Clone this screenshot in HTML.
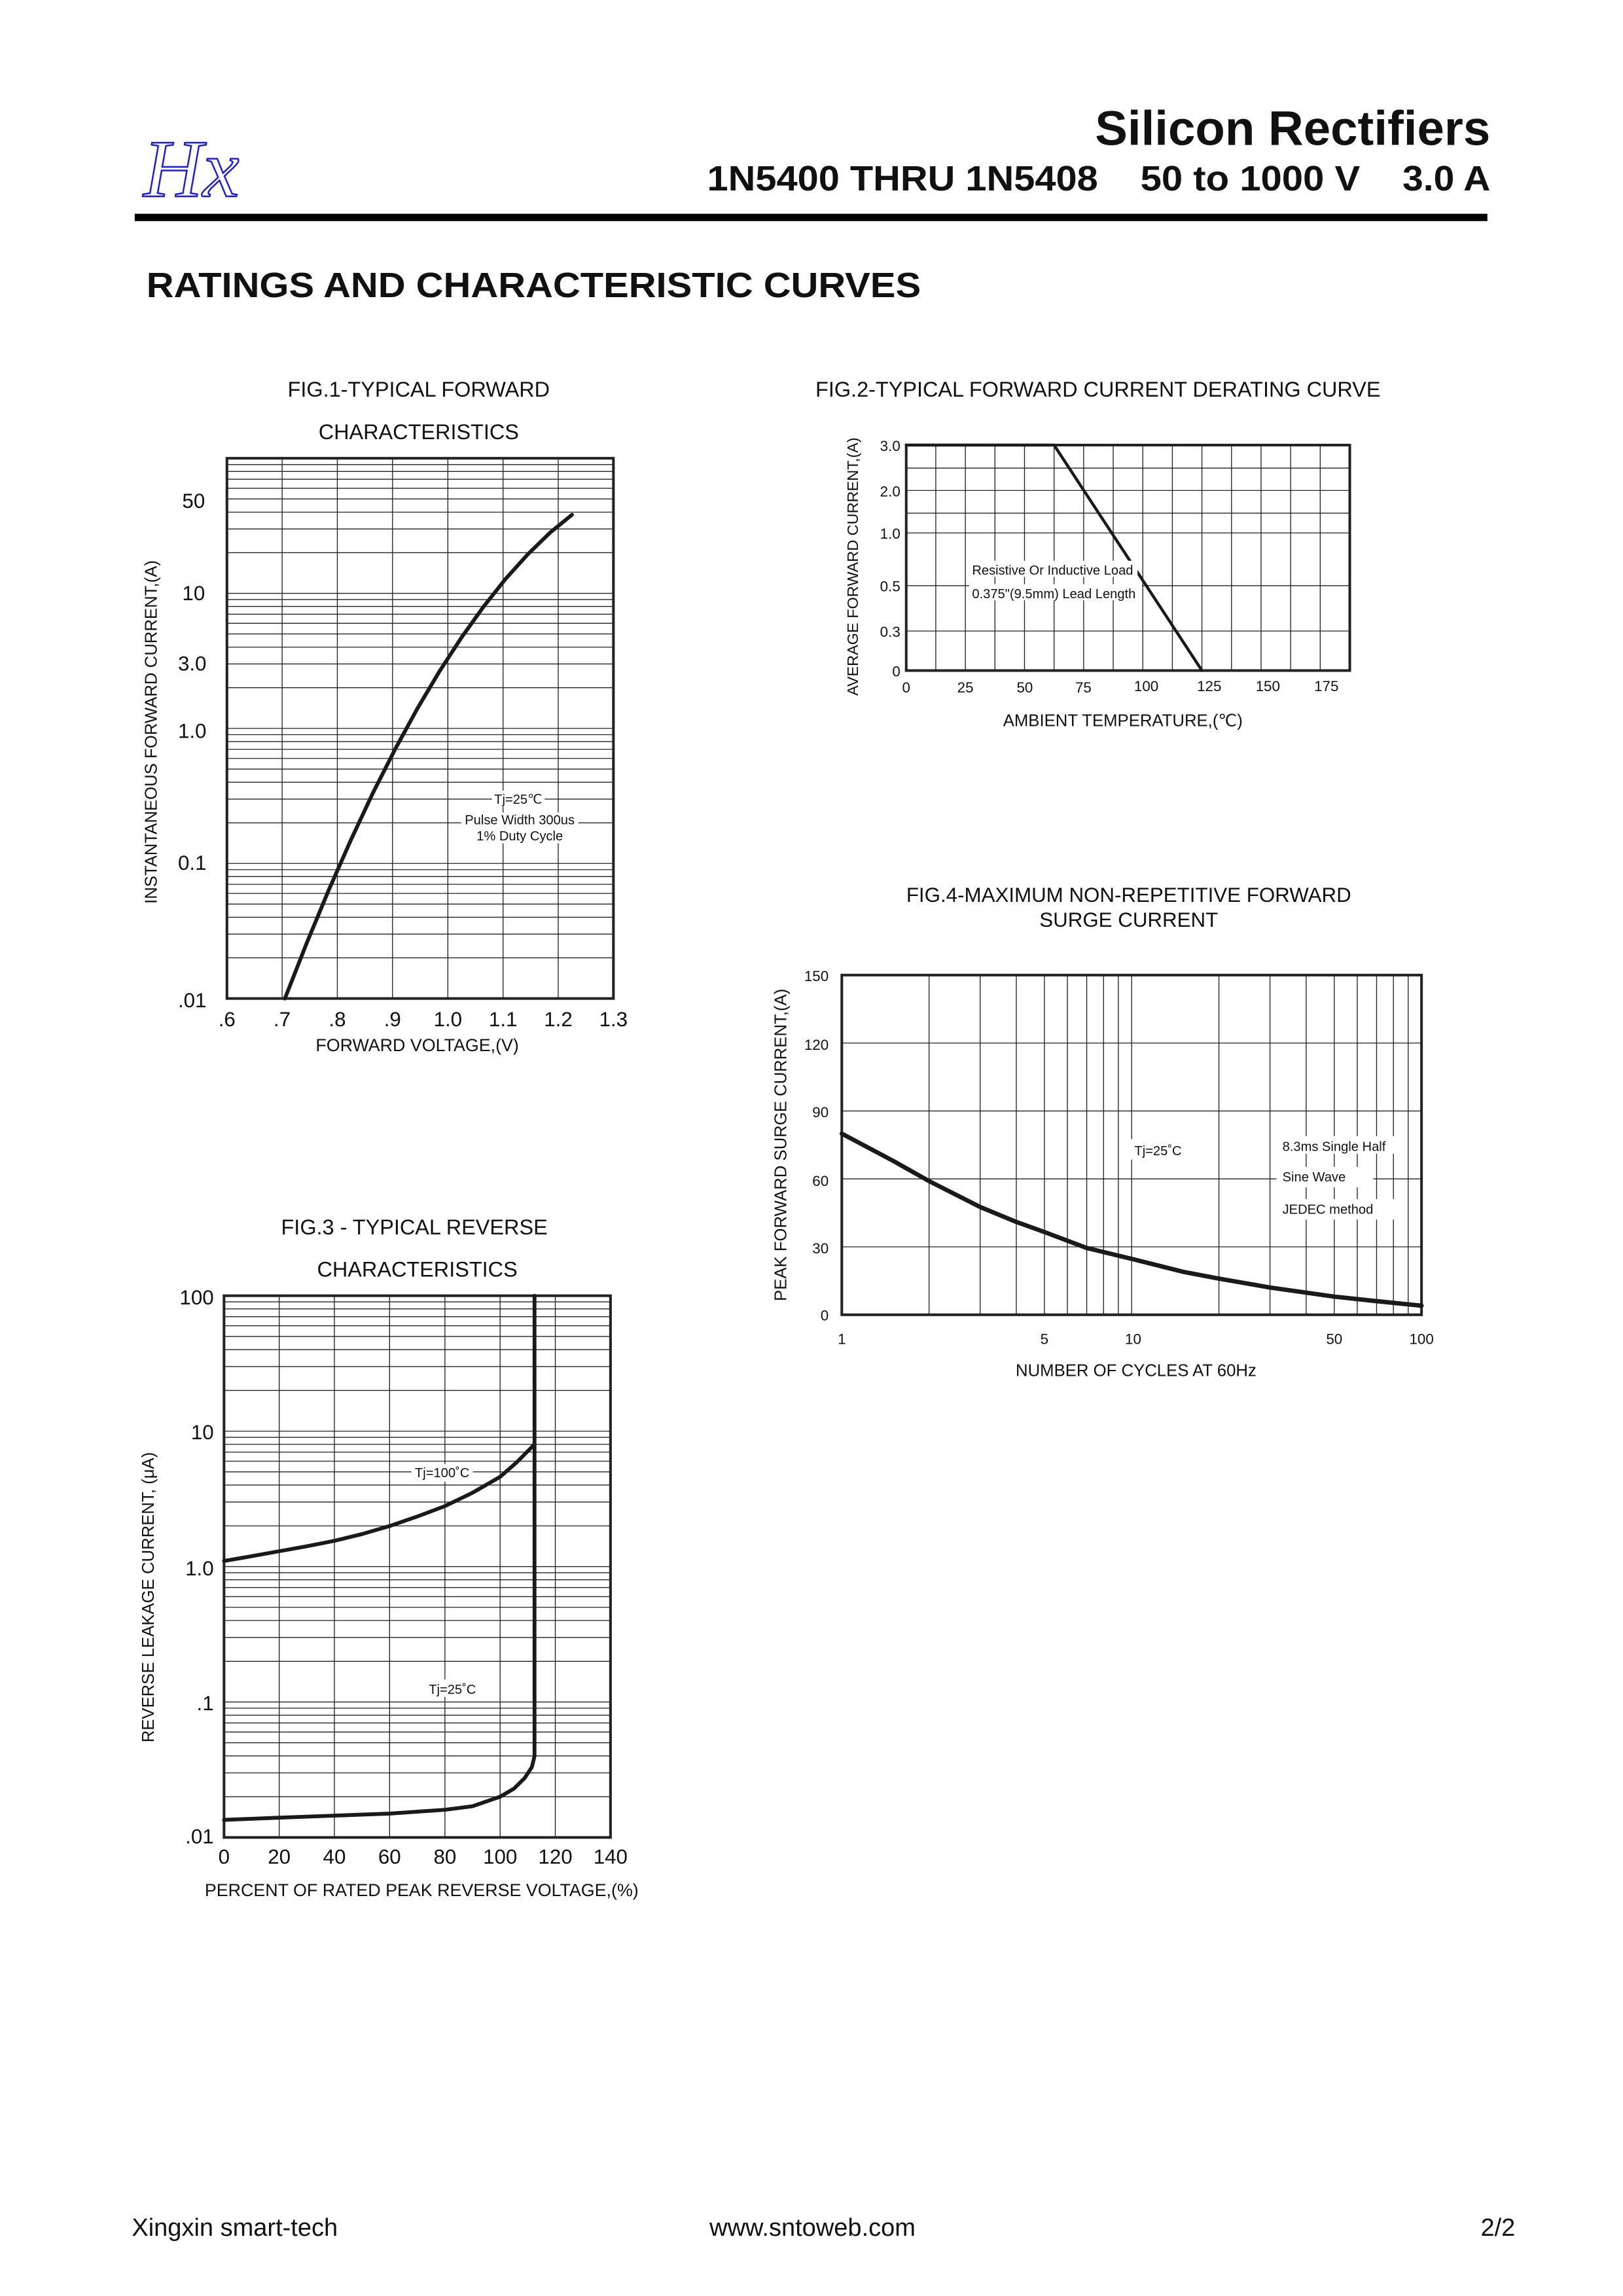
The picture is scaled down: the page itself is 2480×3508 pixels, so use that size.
<!DOCTYPE html>
<html><head><meta charset="utf-8"><style>
html,body{margin:0;padding:0;background:#fff;}
svg{display:block;}
text{font-family:"Liberation Sans",Arial,sans-serif;fill:#111;}
.g{stroke:#222;stroke-width:0.6;fill:none;}
.b{stroke:#222;stroke-width:1.8;fill:none;}
.c{stroke:#1a1a1a;stroke-width:2.6;fill:none;stroke-linejoin:round;stroke-linecap:round;}
</style></head><body>
<svg width="2480" height="3508" viewBox="0 0 1108.6 1568.2" xmlns="http://www.w3.org/2000/svg">
<rect width="1108.6" height="1568.2" fill="#fff"/>
<!-- header -->
<text x="98" y="134" font-size="56" style="font-family:'Liberation Serif',serif;font-style:italic;fill:none;stroke:#1a1ae6;stroke-width:1.1">Hx</text>
<text x="1018" y="99" text-anchor="end" font-weight="bold" font-size="33" textLength="270" lengthAdjust="spacingAndGlyphs">Silicon Rectifiers</text>
<text x="483" y="130" font-weight="bold" font-size="24" textLength="267" lengthAdjust="spacingAndGlyphs">1N5400 THRU 1N5408</text>
<text x="779" y="130" font-weight="bold" font-size="24" textLength="150" lengthAdjust="spacingAndGlyphs">50 to 1000 V</text>
<text x="958" y="130" font-weight="bold" font-size="24" textLength="60" lengthAdjust="spacingAndGlyphs">3.0 A</text>
<rect x="92" y="146" width="924" height="5" fill="#000"/>
<text x="100" y="203" font-weight="bold" font-size="24" textLength="529" lengthAdjust="spacingAndGlyphs">RATINGS AND CHARACTERISTIC CURVES</text>

<!-- FIG 1 -->
<text x="286" y="271" text-anchor="middle" font-size="14.5">FIG.1-TYPICAL FORWARD</text>
<text x="286" y="300" text-anchor="middle" font-size="14.5">CHARACTERISTICS</text>
<path class="g" d="M192.7 313V682M230.4 313V682M268.1 313V682M305.9 313V682M343.6 313V682M381.3 313V682
M155 654.2H419M155 638H419M155 626.5H419M155 617.5H419M155 610.2H419M155 604H419M155 598.7H419M155 594H419M155 589.75H419
M155 562H419M155 545.8H419M155 534.3H419M155 525.3H419M155 518H419M155 511.8H419M155 506.5H419M155 501.8H419M155 497.5H419
M155 469.7H419M155 453.5H419M155 442H419M155 433H419M155 425.7H419M155 419.5H419M155 414.2H419M155 409.5H419M155 405.25H419
M155 377.5H419M155 361.3H419M155 349.8H419M155 340.8H419M155 333.5H419M155 327.3H419M155 322H419M155 317.3H419"/>
<rect class="b" x="155" y="313" width="264" height="369"/>
<polyline class="c" points="194.6,682 209.7,643.6 224.8,607.3 239.9,573.2 254.9,541.2 270,511.5 285.1,483.9 300.2,458.5 315.3,435.3 330.4,414.2 345.4,395.3 360.5,378.6 375.6,363.9 390.7,351.6"/>
<rect x="336" y="540" width="36" height="11" fill="#fff"/>
<rect x="315" y="555" width="80" height="21" fill="#fff"/>
<text x="354" y="549" text-anchor="middle" font-size="9">Tj=25℃</text>
<text x="355" y="563" text-anchor="middle" font-size="9">Pulse Width 300us</text>
<text x="355" y="574" text-anchor="middle" font-size="9">1% Duty Cycle</text>
<g font-size="14" text-anchor="end">
<text x="140" y="347">50</text><text x="140" y="410">10</text><text x="141" y="458">3.0</text>
<text x="141" y="504">1.0</text><text x="141" y="594">0.1</text><text x="141" y="688">.01</text></g>
<g font-size="14" text-anchor="middle">
<text x="155" y="701">.6</text><text x="192.7" y="701">.7</text><text x="230.4" y="701">.8</text><text x="268.1" y="701">.9</text>
<text x="305.9" y="701">1.0</text><text x="343.6" y="701">1.1</text><text x="381.3" y="701">1.2</text><text x="419" y="701">1.3</text></g>
<text x="285" y="718" text-anchor="middle" font-size="12">FORWARD VOLTAGE,(V)</text>
<text transform="translate(107,500) rotate(-90)" text-anchor="middle" font-size="11.5">INSTANTANEOUS FORWARD CURRENT,(A)</text>

<!-- FIG 2 -->
<text x="750" y="271" text-anchor="middle" font-size="14.5">FIG.2-TYPICAL FORWARD CURRENT DERATING CURVE</text>
<path class="g" d="M639.2 304V458M659.4 304V458M679.6 304V458M699.8 304V458M720 304V458M740.2 304V458M760.4 304V458M780.6 304V458M800.8 304V458M821 304V458M841.2 304V458M861.4 304V458M881.6 304V458M901.8 304V458
M619 319.7H922M619 335H922M619 350.5H922M619 364H922M619 400H922M619 431H922"/>
<rect class="b" x="619" y="304" width="303" height="154"/>
<path class="c" d="M619 304H720L821 458" style="stroke-width:2"/>
<rect x="662" y="383" width="115" height="11" fill="#fff"/>
<rect x="662" y="399" width="118" height="11" fill="#fff"/>
<text x="664" y="392.5" font-size="9">Resistive Or Inductive Load</text>
<text x="664" y="408.5" font-size="9">0.375"(9.5mm) Lead Length</text>
<g font-size="10" text-anchor="end">
<text x="615" y="308">3.0</text><text x="615" y="339">2.0</text><text x="615" y="368">1.0</text>
<text x="615" y="404">0.5</text><text x="615" y="435">0.3</text><text x="615" y="462">0</text></g>
<g font-size="10" text-anchor="middle">
<text x="619" y="473">0</text><text x="659.4" y="473">25</text><text x="700" y="473">50</text><text x="740" y="473">75</text>
<text x="783" y="472">100</text><text x="826" y="472">125</text><text x="866" y="472">150</text><text x="906" y="472">175</text></g>
<text x="767" y="496" text-anchor="middle" font-size="11.5">AMBIENT TEMPERATURE,(℃)</text>
<text transform="translate(586,387) rotate(-90)" text-anchor="middle" font-size="10.5">AVERAGE FORWARD CURRENT,(A)</text>

<!-- FIG 4 -->
<text x="771" y="616" text-anchor="middle" font-size="14">FIG.4-MAXIMUM NON-REPETITIVE FORWARD</text>
<text x="771" y="633" text-anchor="middle" font-size="14">SURGE CURRENT</text>
<path class="g" d="M634.6 666V898M669.5 666V898M694.2 666V898M713.4 666V898M729.1 666V898M742.3 666V898M753.8 666V898M763.9 666V898M773 666V898M832.6 666V898M867.5 666V898M892.2 666V898M911.4 666V898M927.1 666V898M940.3 666V898M951.8 666V898M961.9 666V898
M575 851.6H971M575 805.2H971M575 758.8H971M575 712.4H971"/>
<rect class="b" x="575" y="666" width="396" height="232"/>
<polyline class="c" style="stroke-width:3" points="575,774.3 609.9,792.8 634.6,806.7 669.5,824.4 694.2,834.6 713.4,841.5 742.3,852.4 773,859.8 807.9,868.6 832.6,873.3 867.5,879.4 911.4,885.6 940.3,888.7 971,891.8"/>
<rect x="772" y="778" width="38" height="14" fill="#fff"/>
<rect x="872" y="776" width="82" height="12" fill="#fff"/>
<rect x="872" y="797" width="66" height="14" fill="#fff"/>
<rect x="872" y="819" width="82" height="14" fill="#fff"/>
<text x="791" y="789" text-anchor="middle" font-size="9">Tj=25˚C</text>
<text x="876" y="786" font-size="9">8.3ms Single Half</text>
<text x="876" y="807" font-size="9">Sine Wave</text>
<text x="876" y="829" font-size="9">JEDEC method</text>
<g font-size="10" text-anchor="end">
<text x="566" y="670">150</text><text x="566" y="717">120</text><text x="566" y="763">90</text>
<text x="566" y="810">60</text><text x="566" y="856">30</text><text x="566" y="902">0</text></g>
<g font-size="10" text-anchor="middle">
<text x="575" y="918">1</text><text x="713.4" y="918">5</text><text x="774" y="918">10</text>
<text x="911.4" y="918">50</text><text x="971" y="918">100</text></g>
<text x="776" y="940" text-anchor="middle" font-size="11.5">NUMBER OF CYCLES AT 60Hz</text>
<text transform="translate(537,782) rotate(-90)" text-anchor="middle" font-size="11.5">PEAK FORWARD SURGE CURRENT,(A)</text>

<!-- FIG 3 -->
<text x="283" y="843" text-anchor="middle" font-size="14.5">FIG.3 - TYPICAL REVERSE</text>
<text x="285" y="872" text-anchor="middle" font-size="14.5">CHARACTERISTICS</text>
<path class="g" d="M190.7 885V1255M228.4 885V1255M266.1 885V1255M303.9 885V1255M341.6 885V1255M379.3 885V1255
M153 1227.2H417M153 1210.9H417M153 1199.3H417M153 1190.3H417M153 1183H417M153 1176.8H417M153 1171.5H417M153 1166.7H417M153 1162.5H417
M153 1134.7H417M153 1118.4H417M153 1106.8H417M153 1097.8H417M153 1090.5H417M153 1084.3H417M153 1079H417M153 1074.2H417M153 1070H417
M153 1042.2H417M153 1025.9H417M153 1014.3H417M153 1005.3H417M153 998H417M153 991.8H417M153 986.5H417M153 981.7H417M153 977.5H417
M153 949.7H417M153 933.4H417M153 921.8H417M153 912.8H417M153 905.5H417M153 899.3H417M153 894H417M153 889.2H417"/>
<rect class="b" x="153" y="885" width="264" height="370"/>
<polyline class="c" points="153,1066.2 171.9,1062.9 190.7,1059.5 209.6,1056.1 228.4,1052.4 247.3,1047.8 266.1,1042.3 285,1035.8 303.9,1028.7 322.7,1019.6 341.6,1008.7 352.9,998.8 365.1,986.5"/>
<polyline class="c" points="153,1243 190.7,1241.5 228.4,1240.1 266.1,1238.7 303.9,1236.1 322.7,1233.7 341.6,1227.2 351,1221.7 358.5,1214.3 363.3,1206.9 365.1,1199.5 365.1,885"/>
<rect x="281" y="1000" width="42" height="12" fill="#fff"/>
<rect x="290" y="1147" width="38" height="12" fill="#fff"/>
<text x="302" y="1009" text-anchor="middle" font-size="9">Tj=100˚C</text>
<text x="309" y="1157" text-anchor="middle" font-size="9">Tj=25˚C</text>
<g font-size="14" text-anchor="end">
<text x="146" y="891">100</text><text x="146" y="983">10</text><text x="146" y="1076">1.0</text>
<text x="146" y="1168">.1</text><text x="146" y="1259">.01</text></g>
<g font-size="14" text-anchor="middle">
<text x="153" y="1273">0</text><text x="190.7" y="1273">20</text><text x="228.4" y="1273">40</text><text x="266.1" y="1273">60</text>
<text x="303.9" y="1273">80</text><text x="341.6" y="1273">100</text><text x="379.3" y="1273">120</text><text x="417" y="1273">140</text></g>
<text x="288" y="1295" text-anchor="middle" font-size="12">PERCENT OF RATED PEAK REVERSE VOLTAGE,(%)</text>
<text transform="translate(105,1091) rotate(-90)" text-anchor="middle" font-size="11.5">REVERSE LEAKAGE CURRENT, (μA)</text>

<!-- footer -->
<text x="90" y="1527" font-size="17">Xingxin smart-tech</text>
<text x="555" y="1527" text-anchor="middle" font-size="17">www.sntoweb.com</text>
<text x="1035" y="1527" text-anchor="end" font-size="17">2/2</text>
</svg>
</body></html>
